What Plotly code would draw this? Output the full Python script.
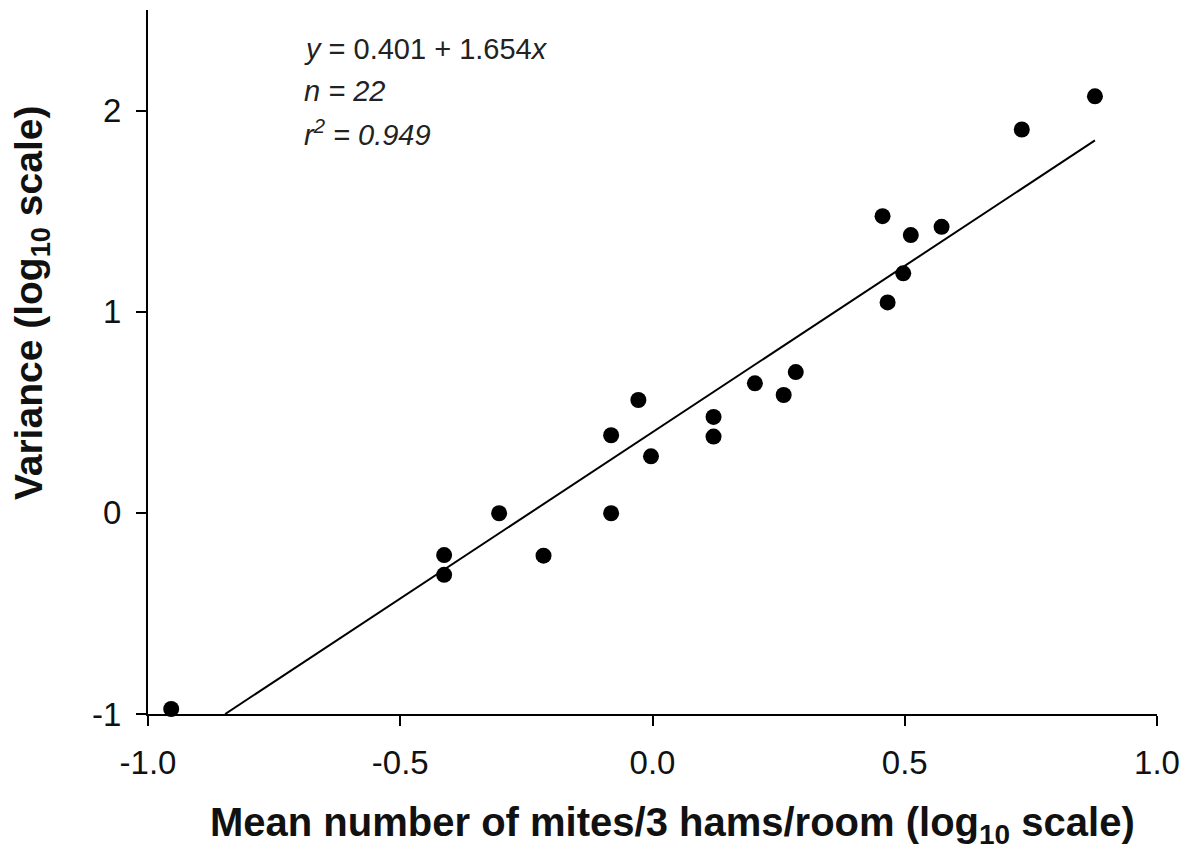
import plotly.graph_objects as go

# log10 mean mites per 3 hams per room vs log10 variance
mean_log = [-0.954, -0.413, -0.413, -0.304, -0.216, -0.082, -0.082, -0.028,
            -0.003, 0.121, 0.121, 0.203, 0.260, 0.284, 0.456, 0.466, 0.497,
            0.512, 0.573, 0.732, 0.877]
var_log = [-0.975, -0.21, -0.308, -0.002, -0.213, 0.386, -0.002, 0.561,
           0.281, 0.477, 0.379, 0.644, 0.586, 0.700, 1.475, 1.046, 1.191,
           1.381, 1.422, 1.906, 2.071]

intercept = 0.401
slope = 1.654
n_obs = 22
r_squared = 0.949

x_ticks = [-1.0, -0.5, 0.0, 0.5, 1.0]
y_ticks = [-1, 0, 1, 2]

FONT = "Arial, Liberation Sans, sans-serif"

# regression line from where it meets the bottom of the axis to the largest mean
x0 = (-1 - intercept) / slope
x1 = max(mean_log)
fit_x = [x0, x1]
fit_y = [intercept + slope * v for v in fit_x]

fig = go.Figure()
fig.add_trace(go.Scatter(x=fit_x, y=fit_y, mode="lines",
                         line=dict(color="black", width=2), cliponaxis=False,
                         showlegend=False, hoverinfo="skip"))
fig.add_trace(go.Scatter(x=mean_log, y=var_log, mode="markers",
                         marker=dict(color="black", size=16), cliponaxis=False,
                         showlegend=False))

axis_common = dict(showgrid=False, zeroline=False, showline=True,
                   linecolor="black", linewidth=2, ticks="outside",
                   ticklen=10, tickwidth=2, tickcolor="black", automargin=False,
                   tickfont=dict(family=FONT, size=33, color="#111"))

fig.update_xaxes(range=[-1, 1], tickvals=x_ticks, ticklabelstandoff=8,
                 ticktext=[f"{v:.1f}" for v in x_ticks], **axis_common)
fig.update_yaxes(range=[-1, 2.5], tickvals=y_ticks, ticklabelstandoff=8,
                 ticktext=[str(v) for v in y_ticks], **axis_common)

# axis titles
fig.add_annotation(x=0.5203, y=-0.1577, xref="paper", yref="paper",
                   text="<b>Mean number of mites/3 hams/room (log<sub>10</sub> scale)</b>",
                   showarrow=False, xanchor="center", yanchor="middle",
                   font=dict(family=FONT, size=40, color="#111"))
fig.add_annotation(x=-0.116, y=0.585, xref="paper", yref="paper",
                   text="<b>Variance (log<sub>10</sub> scale)</b>", textangle=-90,
                   showarrow=False, xanchor="center", yanchor="middle",
                   font=dict(family=FONT, size=39, color="#111"))

# regression summary
eq_lines = [
    f"<i>y</i> = {intercept} + {slope}<i>x</i>",
    f"<i>n = {n_obs}</i>",
    f"<i>r<sup>2</sup> = {r_squared}</i>",
]
eq_y = [2.305, 2.096, 1.888]
for txt, yy in zip(eq_lines, eq_y):
    fig.add_annotation(x=-0.695, y=yy, xref="x", yref="y", text=txt,
                       showarrow=False, xanchor="left", yanchor="middle",
                       font=dict(family=FONT, size=29, color="#222"))

fig.update_layout(width=1186, height=853, plot_bgcolor="white",
                  paper_bgcolor="white",
                  margin=dict(l=148, r=29, t=10, b=139, autoexpand=False),
                  font=dict(family=FONT, color="black"))

fig.write_html("out.html")
